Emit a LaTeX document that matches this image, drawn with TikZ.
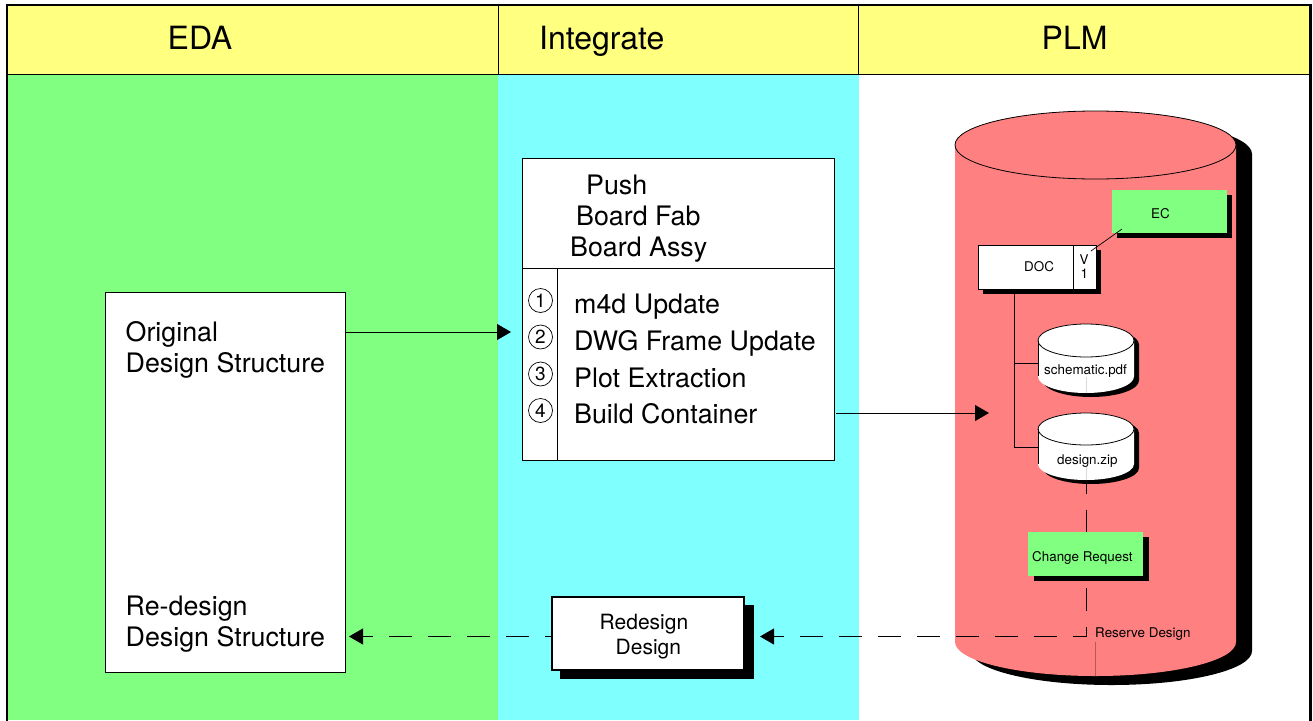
\documentclass[tikz,border=0pt]{standalone}
\usepackage{fontspec}
\setmainfont{TeX Gyre Heros}
\usetikzlibrary{arrows.meta}
\definecolor{softgreen}{HTML}{80FF80}
\definecolor{softcyan}{HTML}{80FFFF}
\definecolor{softred}{HTML}{FF8080}
\definecolor{softyellow}{HTML}{FFFF80}
\newcommand{\drumpath}[5]{({#1-#3},#2) -- ({#1-#3},{#2+#5}) arc[start angle=180,end angle=360,x radius=#3pt,y radius=#4pt] -- ({#1+#3},#2) arc[start angle=0,end angle=180,x radius=#3pt,y radius=#4pt] -- cycle}
\newcommand{\drawdrum}[8]{%
  \fill[black,xshift=#6pt,yshift=-#7pt] \drumpath{#1}{#2}{#3}{#4}{#5};
  \fill[#8] \drumpath{#1}{#2}{#3}{#4}{#5};
  \draw[line width=.8pt,fill=#8] (#1,#2) ellipse[x radius=#3pt,y radius=#4pt];
}
\tikzset{
  x=1pt,y=-1pt,
  band/.style={draw=none,inner sep=0pt,outer sep=0pt,anchor=north west},
  headcell/.style={draw=black,line width=1pt,fill=softyellow,inner sep=0pt,outer sep=0pt,anchor=north west,minimum height=69.5pt},
  headtext/.style={anchor=base west,inner sep=0pt,font=\fontsize{32}{36}\selectfont},
  box/.style={draw=black,line width=1pt,fill=white,inner sep=0pt,outer sep=0pt,anchor=north west},
  ghost/.style={draw=none,inner sep=0pt,outer sep=0pt,anchor=north west},
  shade/.style={fill=black,draw=none,inner sep=0pt,outer sep=0pt,anchor=north west},
  tag/.style={fill=softgreen,draw=none,inner sep=0pt,outer sep=0pt,anchor=north west},
  big/.style={anchor=base west,inner sep=0pt,font=\fontsize{26.8}{30}\selectfont},
  mid/.style={anchor=base west,inner sep=0pt,font=\fontsize{21}{25}\selectfont},
  tiny/.style={anchor=base west,inner sep=0pt,font=\fontsize{13.4}{16}\selectfont},
  numcirc/.style={circle,draw=black,line width=.7pt,inner sep=0pt,minimum size=24pt,font=\fontsize{19}{20}\selectfont},
  tip/.style={-{Triangle[length=14pt,width=16pt]}},
  flow/.style={line width=1pt,tip},
  dashflow/.style={line width=1pt,tip,dash pattern=on 23pt off 16pt},
  wire/.style={line width=1pt},
  frameline/.style={line width=2.2pt,line cap=rect},
}
\begin{document}
\begin{tikzpicture}
\useasboundingbox (0,0) rectangle (1313,720);
\fill[white] (0,0) rectangle (1313,720);
% column backgrounds
\node[band,fill=softgreen,minimum width=491pt,minimum height=645pt] (bgeda) at (7,75) {};
\node[band,fill=softcyan,minimum width=360.5pt,minimum height=645pt] (bgint) at (498,75) {};
% headers
\node[headcell,minimum width=491pt] (headeda) at (7,5) {};
\node[headcell,minimum width=360pt] (headint) at (498,5) {};
\node[headcell,minimum width=452.5pt] (headplm) at (858,5) {};
\node[headtext] (teda) at (167.5,49) {EDA};
\node[headtext] (tint) at (539,49) {Integrate};
\node[headtext] (tplm) at (1041.5,49) {PLM};
\coordinate (pageBottom) at (0,720);
\draw[frameline] (headeda.south west |- pageBottom) -- (headeda.north west) -- (headplm.north east) -- (headplm.north east |- pageBottom);
% big cylinder
\drawdrum{1095.5}{145}{140.5}{34}{497}{16}{9}{softred}
% left box
\node[box,minimum width=240pt,minimum height=380pt] (orig) at (105,292) {};
\node[big] (o1) at (125.5,341) {Original};
\node[big] (o2) at (125.5,372) {Design Structure};
\node[big] (o3) at (125.5,615) {Re-design};
\node[big] (o4) at (125.5,646) {Design Structure};
% middle box
\node[box,minimum width=312pt,minimum height=302pt] (tasks) at (522,158) {};
\coordinate (splitL) at (522,268);
\coordinate (colTop) at (557,268);
\draw[wire] (splitL) -- (splitL -| tasks.east);
\draw[wire] (colTop) -- (colTop |- tasks.south);
\node[big] (p1) at (586,194) {Push};
\node[big] (p2) at (576,225) {Board Fab};
\node[big] (p3) at (570,256) {Board Assy};
\node[big] (m1) at (574,313) {m4d Update};
\node[big] (m2) at (574,350) {DWG Frame Update};
\node[big] (m3) at (574,387) {Plot Extraction};
\node[big] (m4) at (574,423) {Build Container};
\node[numcirc] (c1) at (540.5,300.5) {1};
\node[numcirc] (c2) at (540.5,337) {2};
\node[numcirc] (c3) at (540.5,374) {3};
\node[numcirc] (c4) at (540.5,410.5) {4};
% redesign box
\node[shade,minimum width=194pt,minimum height=74pt] (redshade) at (560,605) {};
\node[box,line width=2pt,minimum width=192pt,minimum height=73pt] (redes) at (552,597) {};
\node[mid] (r1) at (599.5,629) {Redesign};
\node[mid] (r2) at (615.5,654) {Design};
% dashed chain behind plm items
\coordinate (corner) at (1086.5,636.5);
\coordinate (levelR) at (0,636.5);
\coordinate (levelA) at (0,332);
\coordinate (levelB) at (0,413);
\coordinate (trunk) at (1014,289);
\coordinate (pushtarget) at (989,413);
\node[ghost,minimum width=96pt,minimum height=66pt] (dz) at (1038,414) {};
\node[ghost,minimum width=96pt,minimum height=60pt] (sch) at (1038,333) {};
\draw[dashflow,dash phase=9pt,shorten >=6pt] (dz.south -| corner) -- (corner) -- (redshade.east |- levelR);
% EC
\node[shade,minimum width=115pt,minimum height=43pt] (ecshade) at (1117,195) {};
\node[tag,minimum width=115pt,minimum height=43pt] (ec) at (1112,190) {};
\node[tiny] (tec) at (1151,218) {EC};
% DOC
\node[shade,minimum width=118pt,minimum height=44pt] (docshade) at (983,250) {};
\node[box,minimum width=118pt,minimum height=44pt] (doc) at (978,245) {};
\coordinate (verT) at (1073,245);
\draw[wire] (verT) -- (verT |- doc.south);
\node[tiny] (tdoc) at (1024,271) {DOC};
\node[tiny] (tv) at (1079.5,264) {V};
\node[tiny] (tone) at (1080.5,278) {1};
\coordinate (ecfoot) at (1122,229);
\coordinate (docfoot) at (1091,251);
\draw[line width=.7pt] (ecfoot) -- (docfoot);
% trunk
\draw[wire] (trunk) |- (sch.west);
\draw[wire] (trunk) |- (dz.west);
% small cylinders
\drawdrum{1086}{340.5}{48}{16.5}{36}{5}{4}{white}
\drawdrum{1086}{429}{48}{16}{35}{5}{4}{white}
\draw[line width=.8pt] (sch.west |- 0,341) -- (sch.west |- 0,376);
\draw[line width=.8pt] (dz.west |- 0,429) -- (dz.west |- 0,464);
\draw[line width=.5pt,black!15] (1086.5,377) -- (1086.5,393);
\draw[line width=.5pt,black!15] (1086.5,467) -- (1086.5,480);
\node[tiny] (tsch) at (1044,374) {schematic.pdf};
\node[tiny] (tdz) at (1057,464) {design.zip};
% change request
\node[shade,minimum width=115pt,minimum height=44pt] (crshade) at (1034,537) {};
\node[tag,minimum width=115pt,minimum height=44pt] (cr) at (1028,532) {};
\node[tiny] (tcr) at (1032,561) {Change Request};
\node[tiny] (tres) at (1095,637) {Reserve Design};
\coordinate (resfoot) at (1095,642);
\coordinate (resend) at (1095,676);
\draw[line width=.6pt,softred!70!black] (resfoot) -- (resend);
% connectors
\draw[flow,shorten >=11pt] (orig.east |- levelA) -- (tasks.west |- levelA);
\draw[flow,shorten <=2pt] (tasks.east |- levelB) -- (pushtarget);
\draw[dashflow,dash phase=16pt,shorten >=4pt] (redes.west |- levelR) -- (orig.east |- levelR);
\end{tikzpicture}
\end{document}
